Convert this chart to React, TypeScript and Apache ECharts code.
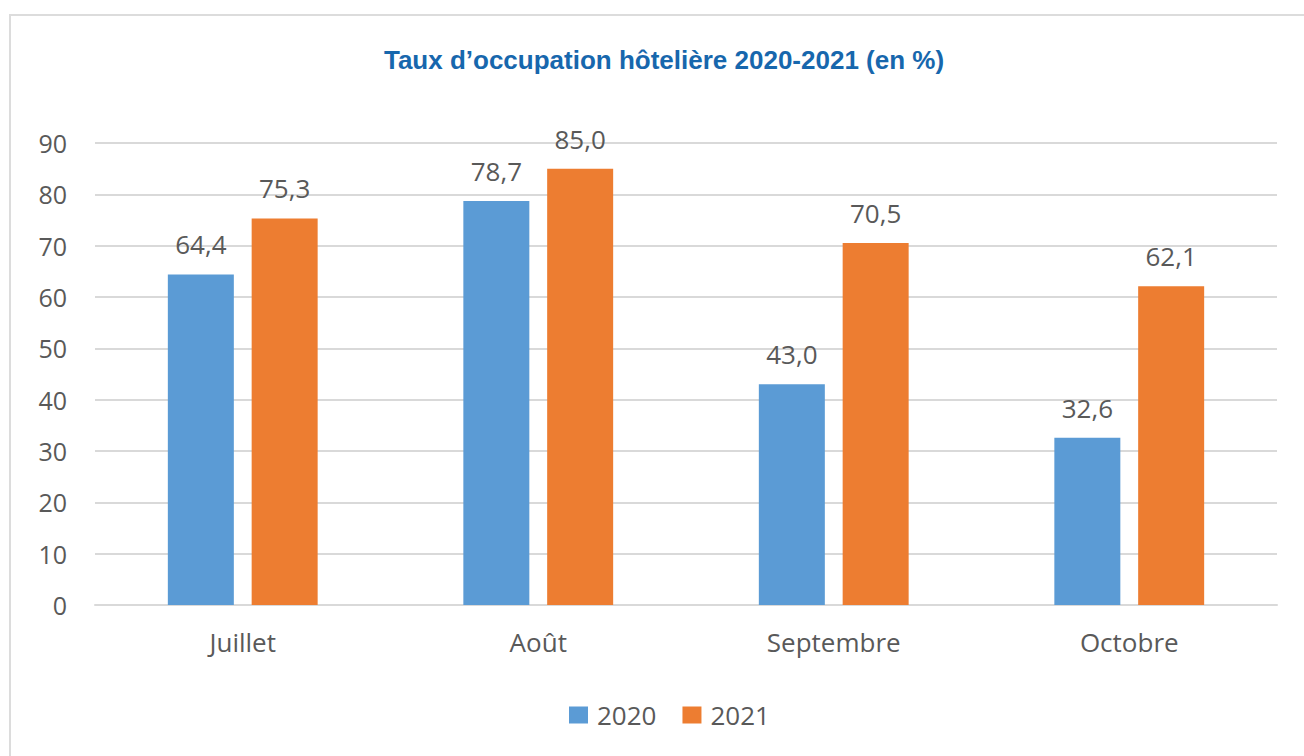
import React, { useEffect, useRef } from "react";
import * as echarts from "echarts";

const categories = ["Juillet", "Août", "Septembre", "Octobre"];
const series2020 = [64.4, 78.7, 43.0, 32.6];
const series2021 = [75.3, 85.0, 70.5, 62.1];
const seriesNames = ["2020", "2021"];
const colors = ["#5B9BD5", "#ED7D31"];
const titleText = "Taux d’occupation hôtelière 2020-2021 (en %)";

const FONT = "'Open Sans', sans-serif";
const GRAY = "#595959";

export default function App() {
  const ref = useRef<HTMLDivElement>(null);
  useEffect(() => {
    if (!ref.current) return;
    const chart = echarts.init(ref.current, null, { renderer: "svg" });
    const fmt = (p: any) => Number(p.value).toFixed(1).replace(".", ",");
    const label = {
      show: true,
      position: "top",
      distance: 17,
      color: GRAY,
      fontFamily: FONT,
      fontSize: 26,
      formatter: fmt,
    };
    chart.setOption({
      animation: false,
      title: {
        text: titleText,
        left: 664,
        top: 47,
        textAlign: "center",
        padding: 0,
        textStyle: {
          color: "#1767AD",
          fontFamily: "'Liberation Sans', Arial, sans-serif",
          fontWeight: "bold",
          fontSize: 26,
        },
      },
      legend: {
        data: seriesNames,
        left: 569,
        top: 702,
        padding: 0,
        itemWidth: 19,
        itemHeight: 17,
        itemGap: 26,
        icon: "rect",
        textStyle: { color: GRAY, fontFamily: FONT, fontSize: 26, padding: [0, 0, 0, 4] },
      },
      grid: { left: 95, right: 27, top: 143, bottom: 151, containLabel: false },
      xAxis: {
        type: "category",
        data: categories,
        axisTick: { show: false },
        axisLine: { show: true, lineStyle: { color: "#d9d9d9", width: 2 } },
        axisLabel: { color: GRAY, fontFamily: FONT, fontSize: 26, margin: 24 },
      },
      yAxis: {
        type: "value",
        min: 0,
        max: 90,
        interval: 10,
        axisLine: { show: false },
        axisTick: { show: false },
        splitLine: { lineStyle: { color: "#d9d9d9", width: 2 } },
        axisLabel: { color: GRAY, fontFamily: FONT, fontSize: 25, margin: 28 },
      },
      series: [
        {
          name: seriesNames[0],
          type: "bar",
          data: series2020,
          barWidth: 66,
          barGap: "27%",
          itemStyle: { color: colors[0] },
          label,
        },
        {
          name: seriesNames[1],
          type: "bar",
          data: series2021,
          barWidth: 66,
          barGap: "27%",
          itemStyle: { color: colors[1] },
          label,
        },
      ],
    });
    return () => chart.dispose();
  }, []);
  return (
    <div style={{ position: "fixed", left: 0, top: 0, width: 1304, height: 756, background: "#fff", overflow: "hidden" }}>
      <div
        style={{
          position: "absolute",
          left: 9,
          top: 14,
          width: 1310,
          height: 800,
          border: "2px solid #dcdcdc",
          boxSizing: "border-box",
        }}
      />
      <div ref={ref} style={{ position: "absolute", left: 0, top: 0, width: 1304, height: 756 }} />
    </div>
  );
}
